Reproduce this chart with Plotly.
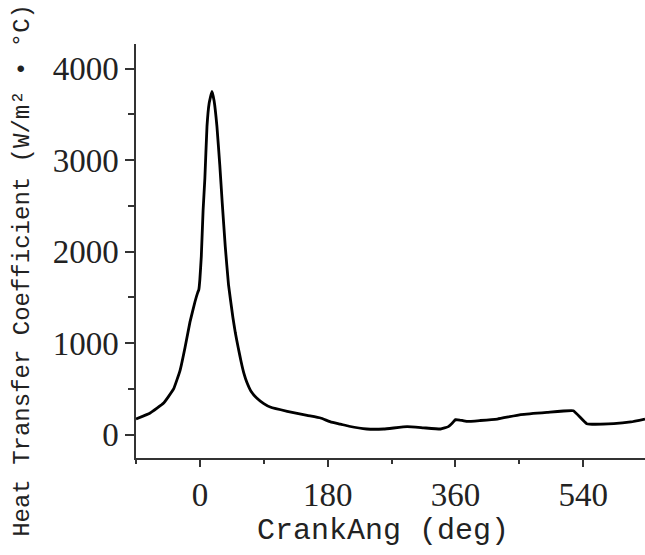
import plotly.graph_objects as go

crank_angle = [-90, -70, -51, -37, -28, -21, -14, -7, -3, -1.5, 0, 2, 4.5, 7, 10, 13, 17,
               20, 24, 28, 31.5, 35.7, 40.3, 46.5, 50, 54, 58, 62, 66, 72, 80, 90, 99,
               123, 151, 170, 184, 198, 210, 235, 259, 292, 315, 339, 350, 356, 360,
               366, 376, 395, 419, 452, 489, 526, 545, 583, 607, 627]
htc = [171, 237, 346, 500, 700, 950, 1230, 1450, 1555, 1585, 1700, 1949, 2450, 2800, 3370,
       3620, 3752, 3650, 3370, 2950, 2530, 2060, 1640, 1280, 1110, 950, 800, 670, 575, 475,
       401, 340, 302, 255, 211, 182, 140, 115, 92, 62, 62, 88, 75, 62, 88, 130, 164,
       160, 145, 155, 171, 219, 244, 262, 120, 120, 139, 171]

x_ticks = [0, 180, 360, 540]
y_ticks = [0, 1000, 2000, 3000, 4000]

fig = go.Figure()
fig.add_trace(go.Scatter(x=crank_angle, y=htc, mode="lines",
                         line=dict(color="black", width=2.8, shape="spline", smoothing=0.3),
                         showlegend=False))

axis_common = dict(showgrid=False, zeroline=False, showline=True, linecolor="#333333",
                   linewidth=1.5, ticks="outside", tickcolor="#333333", tickwidth=1.5,
                   tickfont=dict(family="Liberation Serif", size=33, color="#222222"))

fig.update_xaxes(range=[-90, 627], tickvals=x_ticks, ticklen=7,
                 minor=dict(dtick=90, tick0=0, ticks="outside", ticklen=4, tickcolor="#333333", tickwidth=1.5),
                 **axis_common)
fig.update_yaxes(range=[-255, 4270], tickvals=y_ticks, ticklen=9,
                 minor=dict(dtick=500, tick0=0, ticks="outside", ticklen=6, tickcolor="#333333", tickwidth=1.5),
                 **axis_common)

fig.add_annotation(text="CrankAng (deg)", xref="paper", yref="paper", x=0.485, y=-0.176,
                   showarrow=False, xanchor="center", yanchor="middle",
                   font=dict(family="Liberation Mono", size=30, color="#222222"))
fig.add_annotation(text="Heat Transfer Coefficient (W/m² • °C)", xref="paper", yref="paper",
                   x=-0.222, y=0.452, textangle=-90, showarrow=False,
                   xanchor="center", yanchor="middle",
                   font=dict(family="Liberation Mono", size=24, color="#222222"))

fig.update_layout(width=645, height=555, plot_bgcolor="white", paper_bgcolor="white",
                  margin=dict(l=136, r=0, t=44, b=97))

# remove the default page margin so the 645x555 figure fills the window exactly
fig.write_html("out.html", config={"displayModeBar": False},
               post_script="document.body.style.margin='0';document.body.style.overflow='hidden';")
